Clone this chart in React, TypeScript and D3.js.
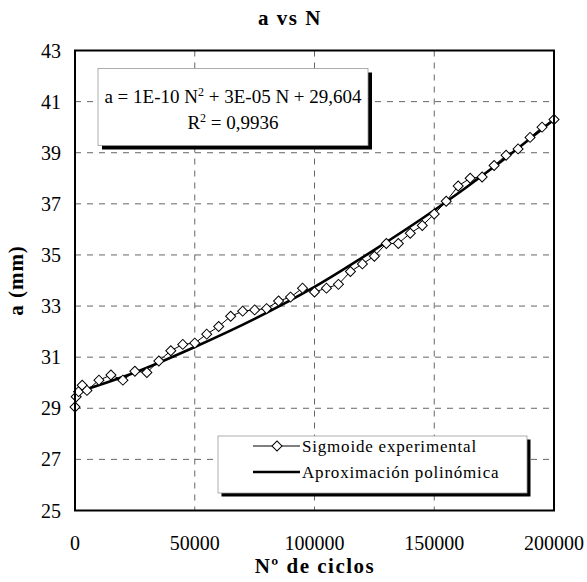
import React, { useRef, useEffect } from "react";
import * as d3 from "d3";

// Data
const cycles = [
  0, 500, 1500, 3000, 5000, 10000, 15000, 20000, 25000, 30000, 35000, 40000, 45000, 50000,
  55000, 60000, 65000, 70000, 75000, 80000, 85000, 90000, 95000, 100000, 105000, 110000,
  115000, 120000, 125000, 130000, 135000, 140000, 145000, 150000, 155000, 160000, 165000,
  170000, 175000, 180000, 185000, 190000, 195000, 200000,
];
const aExperimental = [
  29.05, 29.45, 29.65, 29.9, 29.7, 30.1, 30.3, 30.1, 30.45, 30.4, 30.85, 31.25, 31.5, 31.55,
  31.9, 32.2, 32.6, 32.8, 32.85, 32.9, 33.2, 33.35, 33.7, 33.55, 33.7, 33.85,
  34.35, 34.65, 34.95, 35.45, 35.45, 35.85, 36.15, 36.6, 37.1, 37.7, 38.0,
  38.05, 38.5, 38.9, 39.15, 39.6, 40.0, 40.3,
];
const fitCycles = [0, 25000, 50000, 75000, 100000, 125000, 150000, 175000, 200000];
const fitValues = [29.6, 30.4, 31.4, 32.5, 33.75, 35.2, 36.75, 38.45, 40.3];

const xTicks = [0, 50000, 100000, 150000, 200000];
const yTicks = [25, 27, 29, 31, 33, 35, 37, 39, 41, 43];

const chartTitle = "a vs N";
const xTitle = "Nº de ciclos";
const yTitle = "a (mm)";
const legendLabels = ["Sigmoide experimental", "Aproximación polinómica"];
const r2Text = "R² = 0,9936";

const FONT = "'Liberation Serif', 'Times New Roman', serif";

const Chart = () => {
  const svgRef = useRef<SVGSVGElement | null>(null);

  useEffect(() => {
    const width = 587;
    const height = 582;
    const plot = { left: 75, right: 554, top: 50.5, bottom: 510.5 };

    const svg = d3.select(svgRef.current).attr("width", width).attr("height", height);
    svg.selectAll("*").remove();

    svg.append("rect").attr("width", width).attr("height", height).attr("fill", "#fff");

    // Scales
    const xScale = d3.scaleLinear().domain([0, 200000]).range([plot.left, plot.right]);
    const yScale = d3.scaleLinear().domain([25, 43]).range([plot.bottom, plot.top]);

    // Grid
    const grid = svg.append("g").attr("stroke", "#555").attr("stroke-width", 0.9).attr("stroke-dasharray", "6,6");
    grid
      .selectAll("line.h")
      .data(yTicks.slice(1, -1))
      .join("line")
      .attr("x1", plot.left)
      .attr("x2", plot.right)
      .attr("y1", (d) => yScale(d))
      .attr("y2", (d) => yScale(d));
    grid
      .selectAll("line.v")
      .data(xTicks.slice(1, -1))
      .join("line")
      .attr("x1", (d) => xScale(d))
      .attr("x2", (d) => xScale(d))
      .attr("y1", plot.top)
      .attr("y2", plot.bottom);

    // Equation box (with shadow)
    const eq = { x: 98, y: 68.5, w: 270, h: 77 };
    svg.append("rect").attr("x", eq.x + 4).attr("y", eq.y + 4).attr("width", eq.w).attr("height", eq.h).attr("fill", "#000");
    svg
      .append("rect")
      .attr("x", eq.x)
      .attr("y", eq.y)
      .attr("width", eq.w)
      .attr("height", eq.h)
      .attr("fill", "#fff")
      .attr("stroke", "#999")
      .attr("stroke-width", 0.8);

    const eqText = svg
      .append("text")
      .attr("x", eq.x + eq.w / 2)
      .attr("y", 103)
      .attr("text-anchor", "middle")
      .attr("font-family", FONT)
      .attr("font-size", 19);
    eqText.append("tspan").text("a = 1E-10 N");
    eqText.append("tspan").attr("dy", -7).attr("font-size", 12).text("2");
    eqText.append("tspan").attr("dy", 7).text(" + 3E-05 N + 29,604");

    const r2 = svg
      .append("text")
      .attr("x", eq.x + eq.w / 2)
      .attr("y", 129)
      .attr("text-anchor", "middle")
      .attr("font-family", FONT)
      .attr("font-size", 19);
    r2.append("tspan").text(r2Text.slice(0, 1));
    r2.append("tspan").attr("dy", -7).attr("font-size", 12).text("2");
    r2.append("tspan").attr("dy", 7).text(r2Text.slice(2));

    // Legend box (with shadow)
    const lg = { x: 218, y: 436, w: 309, h: 57 };
    svg.append("rect").attr("x", lg.x + 3.5).attr("y", lg.y + 3.5).attr("width", lg.w).attr("height", lg.h).attr("fill", "#000");
    svg
      .append("rect")
      .attr("x", lg.x)
      .attr("y", lg.y)
      .attr("width", lg.w)
      .attr("height", lg.h)
      .attr("fill", "#fff")
      .attr("stroke", "#999")
      .attr("stroke-width", 0.8);

    const diamond = d3.symbol().type(d3.symbolSquare).size(50);

    const legendRows = [446, 472];
    legendRows.forEach((ly, i) => {
      svg
        .append("line")
        .attr("x1", 253)
        .attr("x2", 300)
        .attr("y1", ly)
        .attr("y2", ly)
        .attr("stroke", "#000")
        .attr("stroke-width", i === 0 ? 1 : 2.5);
      if (i === 0) {
        svg
          .append("path")
          .attr("d", diamond())
          .attr("transform", `translate(277,${ly}) rotate(45)`)
          .attr("fill", "#fff")
          .attr("stroke", "#000")
          .attr("stroke-width", 1);
      }
      svg
        .append("text")
        .attr("x", 302)
        .attr("y", ly + 5.5)
        .attr("font-family", FONT)
        .attr("font-size", 17)
        .attr("letter-spacing", 0.8)
        .text(legendLabels[i]);
    });

    // Experimental series
    const points = cycles.map((c, i) => [c, aExperimental[i]] as [number, number]);
    const lineGenerator = d3
      .line<[number, number]>()
      .x((d) => xScale(d[0]))
      .y((d) => yScale(d[1]));

    svg
      .append("path")
      .datum(points)
      .attr("d", lineGenerator)
      .attr("fill", "none")
      .attr("stroke", "#000")
      .attr("stroke-width", 1);

    // Fitted polynomial
    const fitPoints = fitCycles.map((c, i) => [c, fitValues[i]] as [number, number]);
    svg
      .append("path")
      .datum(fitPoints)
      .attr("d", lineGenerator.curve(d3.curveMonotoneX))
      .attr("fill", "none")
      .attr("stroke", "#000")
      .attr("stroke-width", 2.6);

    svg
      .append("g")
      .selectAll("path")
      .data(points)
      .join("path")
      .attr("d", diamond())
      .attr("transform", (d) => `translate(${xScale(d[0])},${yScale(d[1])}) rotate(45)`)
      .attr("fill", "#fff")
      .attr("stroke", "#000")
      .attr("stroke-width", 1);

    // Frame
    svg
      .append("rect")
      .attr("x", plot.left)
      .attr("y", plot.top)
      .attr("width", plot.right - plot.left)
      .attr("height", plot.bottom - plot.top)
      .attr("fill", "none")
      .attr("stroke", "#000")
      .attr("stroke-width", 2);

    // Axis labels
    svg
      .append("g")
      .selectAll("text")
      .data(yTicks)
      .join("text")
      .attr("x", 61)
      .attr("y", (d) => yScale(d) + 7)
      .attr("text-anchor", "end")
      .attr("font-family", FONT)
      .attr("font-size", 20)
      .text((d) => String(d));

    svg
      .append("g")
      .selectAll("text")
      .data(xTicks)
      .join("text")
      .attr("x", (d) => xScale(d))
      .attr("y", 550)
      .attr("text-anchor", "middle")
      .attr("font-family", FONT)
      .attr("font-size", 20)
      .text((d) => String(d));

    // Titles
    svg
      .append("text")
      .attr("x", 290)
      .attr("y", 25)
      .attr("text-anchor", "middle")
      .attr("font-family", FONT)
      .attr("font-size", 21)
      .attr("font-weight", "bold")
      .attr("letter-spacing", 1.5)
      .text(chartTitle);

    svg
      .append("text")
      .attr("x", 315)
      .attr("y", 573)
      .attr("text-anchor", "middle")
      .attr("font-family", FONT)
      .attr("font-size", 21)
      .attr("font-weight", "bold")
      .attr("letter-spacing", 1.5)
      .text(xTitle);

    svg
      .append("text")
      .attr("transform", `translate(23,${(plot.top + plot.bottom) / 2}) rotate(-90)`)
      .attr("text-anchor", "middle")
      .attr("font-family", FONT)
      .attr("font-size", 21)
      .attr("font-weight", "bold")
      .attr("letter-spacing", 1)
      .text(yTitle);
  }, []);

  return <svg ref={svgRef} style={{ position: "absolute", left: 0, top: 0 }} />;
};

const App = () => {
  return <Chart />;
};

export default App;
